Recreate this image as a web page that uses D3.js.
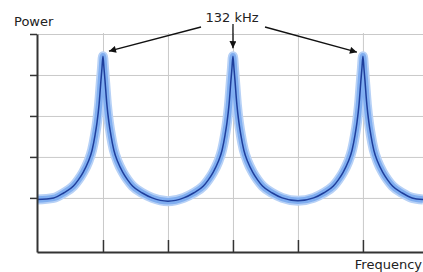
<!DOCTYPE html>
<html>
<head>
<meta charset="utf-8">
<script src="https://cdn.jsdelivr.net/npm/d3@7"></script>
<style>
	body { margin: 0; background: #fff; }
	svg { display: block; font-family: "DejaVu Sans", Verdana, sans-serif; }
</style>
</head>
<body>
<div id="chart"></div>
<script>
// frequency samples (kHz) and power (dB-ish units)
var freqKHz = [65, 82, 92, 102, 107, 112, 117, 121, 124, 126, 128, 130, 131, 132, 133, 134, 136, 138, 140, 143, 147, 152, 157, 162, 172, 182,
	198, 214, 224, 234, 239, 244, 249, 253, 256, 258, 260, 262, 263, 264, 265, 266, 268, 270, 272, 275, 279, 284, 289, 294, 304, 314,
	330, 346, 356, 366, 371, 376, 381, 385, 388, 390, 392, 394, 395, 396, 397, 398, 400, 402, 404, 407, 411, 416, 421, 426, 436, 446, 457];
var powerDb = [9.6, 10.0, 11.2, 12.9, 14.4, 16.3, 18.8, 21.7, 25.4, 28.5, 32.7, 38.8, 41.7, 44.6, 41.7, 38.8, 32.7, 28.5, 25.4, 21.7, 18.8, 16.3, 14.4, 12.9, 11.2, 10.0,
	9.2, 10.0, 11.2, 12.9, 14.4, 16.3, 18.8, 21.7, 25.4, 28.5, 32.7, 38.8, 41.7, 44.6, 41.7, 38.8, 32.7, 28.5, 25.4, 21.7, 18.8, 16.3, 14.4, 12.9, 11.2, 10.0,
	9.3, 10.0, 11.2, 12.9, 14.4, 16.3, 18.8, 21.7, 25.4, 28.5, 32.7, 38.8, 41.7, 44.6, 41.7, 38.8, 32.7, 28.5, 25.4, 21.7, 18.8, 16.3, 14.4, 12.9, 11.2, 10.0, 9.6];

var gridFreqs = [132, 198, 264, 330, 396];
var gridPower = [10, 20, 30, 40, 50];
var peakFreqs = [132, 264, 396];
var peakLabel = "132 kHz";
var xLabel = "Frequency";
var yLabel = "Power";

function drawChart()
{
	var width = 423, height = 272;
	var left = 37, right = 423, top = 34, bottom = 252;

	var svg = d3.select("#chart")
		.append("svg")
		.attr("width", width)
		.attr("height", height);

	var x = d3.scaleLinear()
		.domain([65, 457])
		.range([left, right]);

	var y = d3.scaleLinear()
		.domain([-3.2, 50])
		.range([bottom, top]);

	// grid
	svg.append("g")
		.attr("transform", "translate(0," + bottom + ")")
		.call(d3.axisBottom(x).tickValues(gridFreqs).tickSize(-(bottom - top + 1)).tickFormat(""))
		.call(g => g.select(".domain").remove())
		.selectAll("line")
		.attr("stroke", "#c9c9c9");

	svg.append("g")
		.attr("transform", "translate(" + left + ",0)")
		.call(d3.axisLeft(y).tickValues(gridPower).tickSize(-(right - left)).tickFormat(""))
		.call(g => g.select(".domain").remove())
		.selectAll("line")
		.attr("stroke", "#c9c9c9");

	// the curve: soft wide band + thin dark line
	var pts = freqKHz.map((f, i) => [f, powerDb[i]]);
	var line = d3.line()
		.x(d => x(d[0]))
		.y(d => y(d[1]))
		.curve(d3.curveMonotoneX);

	svg.append("clipPath")
		.attr("id", "plot")
		.append("rect")
		.attr("x", left)
		.attr("y", 0)
		.attr("width", right - left)
		.attr("height", bottom);

	var curves = svg.append("g").attr("clip-path", "url(#plot)");
	curves.append("path")
		.attr("d", line(pts))
		.attr("fill", "none")
		.attr("stroke", "#b7d1f6")
		.attr("stroke-width", 10)
		.attr("stroke-linejoin", "round");
	curves.append("path")
		.attr("d", line(pts))
		.attr("fill", "none")
		.attr("stroke", "#80aef0")
		.attr("stroke-width", 6.5)
		.attr("stroke-linejoin", "round");
	curves.append("path")
		.attr("d", line(pts))
		.attr("fill", "none")
		.attr("stroke", "#1f3f9c")
		.attr("stroke-width", 1.5)
		.attr("stroke-linejoin", "round");

	// axes
	var xAxis = svg.append("g")
		.attr("transform", "translate(0," + bottom + ")")
		.call(d3.axisBottom(x).tickValues(gridFreqs).tickSize(-12).tickSizeOuter(0).tickFormat(""));
	xAxis.select(".domain").attr("stroke", "#333").attr("stroke-width", 2);
	xAxis.selectAll(".tick line").attr("stroke", "#333").attr("stroke-width", 1.5);

	var yAxis = svg.append("g")
		.attr("transform", "translate(" + left + ",0)")
		.call(d3.axisLeft(y).tickValues(gridPower).tickSize(7).tickSizeOuter(0).tickFormat(""));
	yAxis.select(".domain").attr("stroke", "#333").attr("stroke-width", 2);
	yAxis.selectAll(".tick line").attr("stroke", "#333").attr("stroke-width", 1.5);

	svg.append("text")
		.attr("x", 14)
		.attr("y", 26)
		.attr("font-size", 13)
		.attr("fill", "#222")
		.text(yLabel);

	svg.append("text")
		.attr("x", right - 1)
		.attr("y", 269)
		.attr("text-anchor", "end")
		.attr("font-size", 13)
		.attr("fill", "#222")
		.text(xLabel);

	// label + arrows to each peak
	svg.append("defs").append("marker")
		.attr("id", "head")
		.attr("viewBox", "0 0 10 10")
		.attr("refX", 10)
		.attr("refY", 5)
		.attr("markerWidth", 9)
		.attr("markerHeight", 7)
		.attr("markerUnits", "userSpaceOnUse")
		.attr("orient", "auto")
		.append("path")
		.attr("d", "M0,0L10,5L0,10z")
		.attr("fill", "#111");

	svg.append("text")
		.attr("x", 232)
		.attr("y", 22)
		.attr("text-anchor", "middle")
		.attr("font-size", 13)
		.attr("fill", "#222")
		.text(peakLabel);

	var starts = [[201, 27], [233, 24], [265, 27]];
	var ends = [[6, -5], [0, -8], [-6, -4]];
	svg.selectAll("line.arrow")
		.data(peakFreqs)
		.enter()
		.append("line")
		.attr("class", "arrow")
		.attr("x1", (d, i) => starts[i][0])
		.attr("y1", (d, i) => starts[i][1])
		.attr("x2", (d, i) => x(d) + ends[i][0])
		.attr("y2", (d, i) => y(d3.max(powerDb)) + ends[i][1])
		.attr("stroke", "#111")
		.attr("stroke-width", 1.3)
		.attr("marker-end", "url(#head)");
}

drawChart();
</script>
</body>
</html>
